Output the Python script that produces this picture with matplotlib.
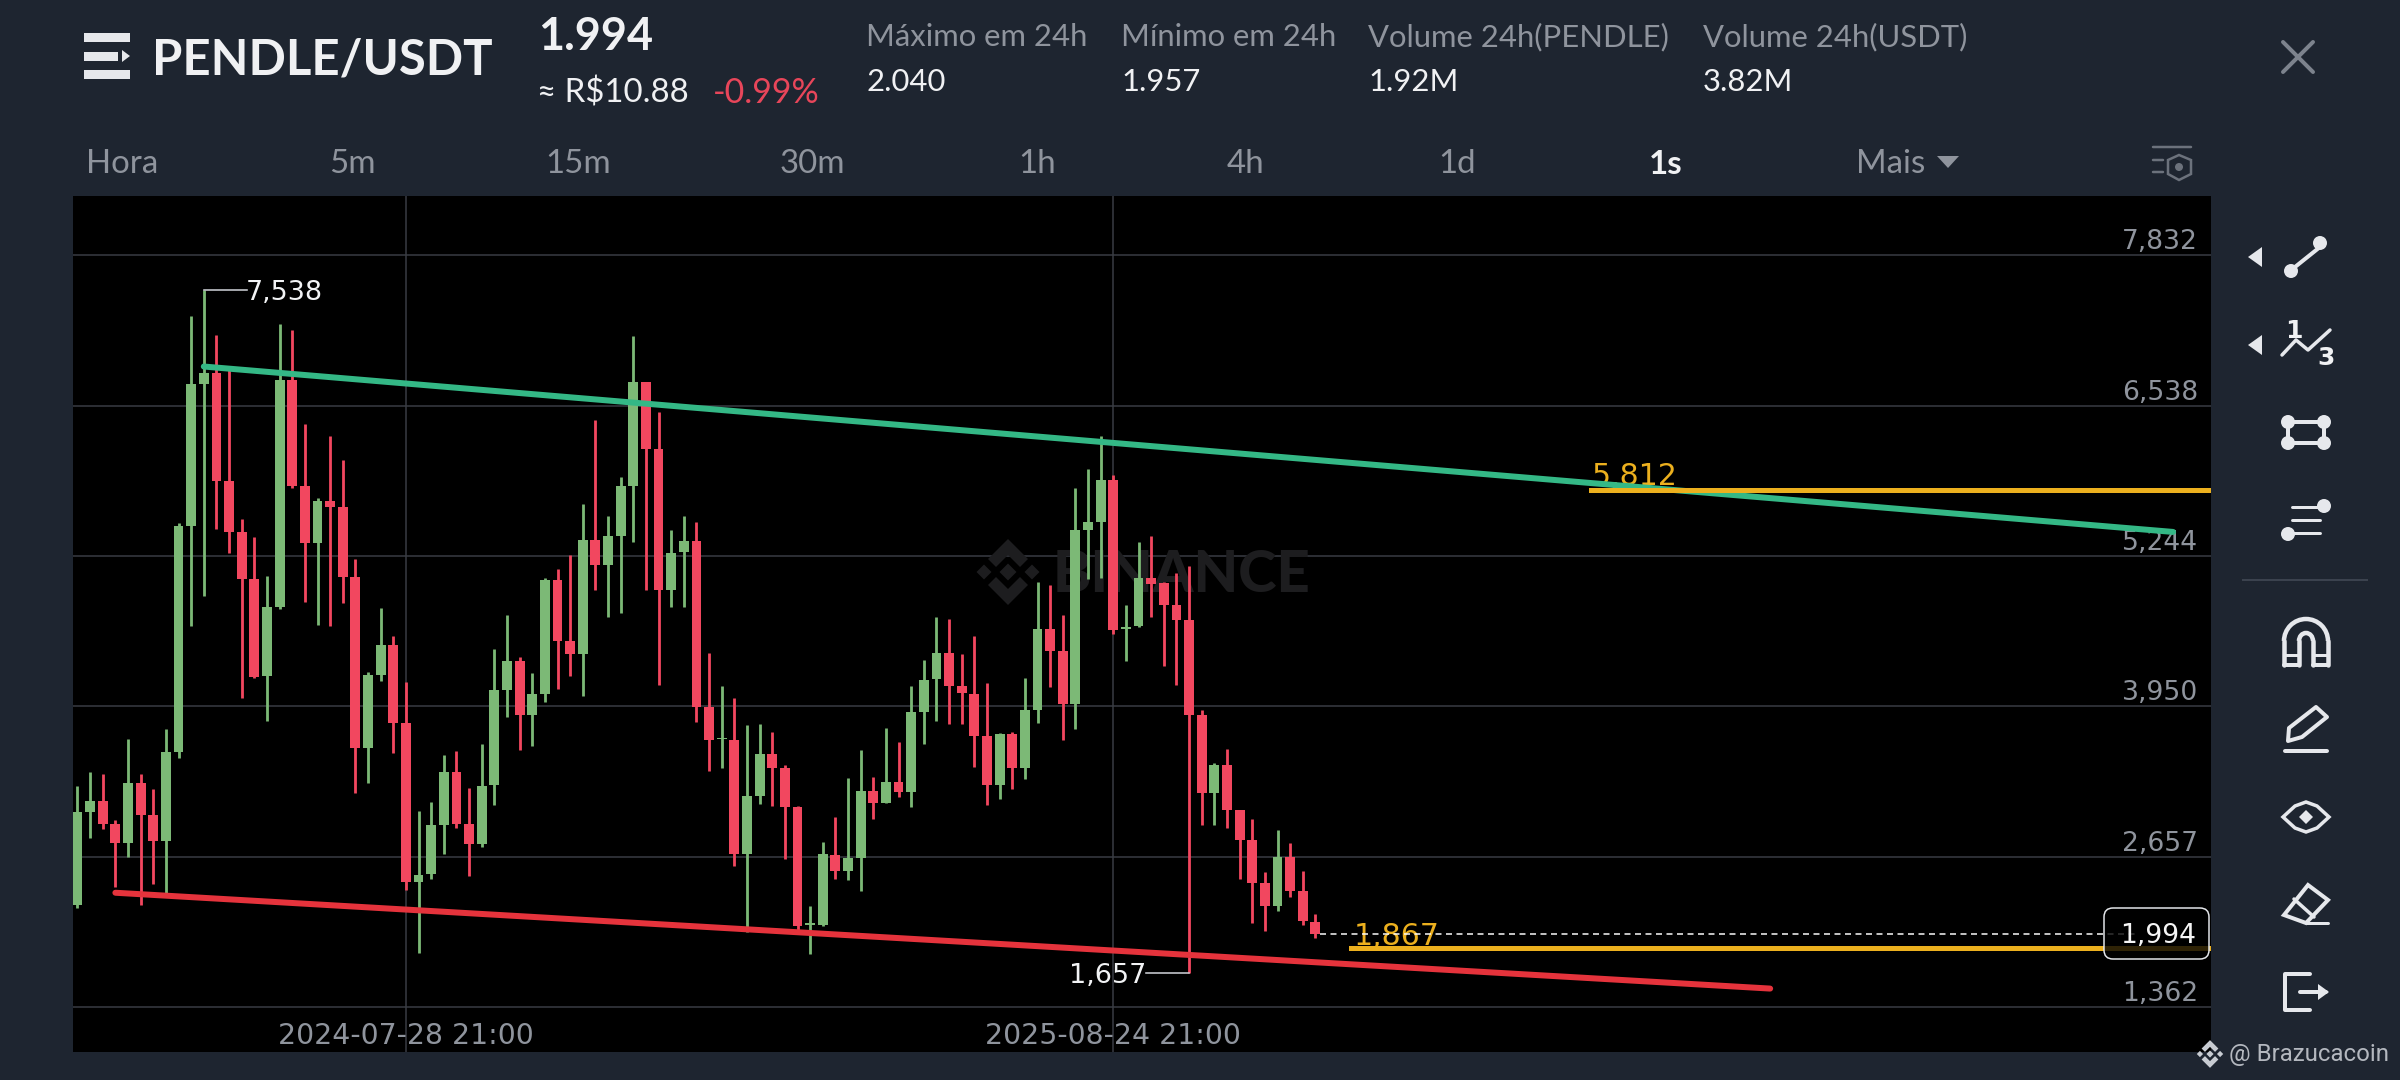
import matplotlib
matplotlib.use('Agg')
import matplotlib.pyplot as plt
from matplotlib.patches import Circle, FancyBboxPatch, Polygon, Rectangle, Arc
import numpy as np

# candles, oldest first
opens = [2.239, 3.041, 3.136, 2.935, 2.773, 3.294, 3.018, 2.792, 3.559, 5.500,
         6.722, 6.821, 5.888, 5.453, 5.046, 4.208, 4.808, 6.757, 5.848, 5.358,
         5.722, 5.666, 5.065, 3.595, 4.219, 4.480, 3.804, 2.441, 2.504, 2.931,
         3.385, 2.935, 2.765, 3.271, 4.089, 4.342, 3.879, 4.057, 5.034, 4.512,
         4.405, 5.386, 5.164, 5.414, 5.844, 6.740, 6.169, 4.948, 5.276, 5.377,
         3.947, 3.671, 3.664, 2.678, 3.182, 3.537, 3.417, 3.081, 2.070, 2.070,
         2.671, 2.529, 2.641, 3.219, 3.115, 3.298, 3.212, 3.906, 4.183, 4.414,
         4.123, 4.059, 3.696, 3.271, 3.712, 3.419, 3.920, 4.618, 4.424, 3.973,
         5.465, 5.540, 5.896, 4.618, 4.638, 5.056, 5.013, 4.826, 4.697, 3.877,
         3.205, 3.449, 3.057, 2.800, 2.431, 2.230, 2.655, 2.362, 2.098]
highs = [3.267, 3.385, 3.366, 2.970, 3.666, 3.366, 3.239, 3.753, 5.532, 7.307,
         7.538, 7.149, 6.844, 5.567, 5.409, 5.069, 7.244, 7.192, 6.382, 5.745,
         6.275, 6.073, 5.223, 4.243, 4.797, 4.559, 4.156, 3.049, 3.124, 3.528,
         3.563, 3.247, 3.623, 4.441, 4.733, 4.374, 4.235, 5.054, 5.129, 5.255,
         5.690, 6.413, 5.590, 5.922, 7.139, 6.740, 6.486, 5.470, 5.590, 5.534,
         4.407, 4.127, 4.022, 3.787, 3.798, 3.727, 3.447, 3.089, 2.234, 2.779,
         3.000, 3.331, 3.574, 3.343, 3.761, 3.641, 4.130, 4.351, 4.716, 4.705,
         4.399, 4.556, 4.150, 3.719, 3.729, 4.197, 5.023, 4.997, 4.733, 5.827,
         5.992, 6.275, 5.942, 4.822, 5.363, 5.419, 5.020, 5.099, 5.155, 3.920,
         3.459, 3.584, 3.057, 2.984, 2.526, 2.882, 2.773, 2.536, 2.161]
lows = [2.215, 2.816, 2.899, 2.397, 2.654, 2.239, 2.425, 2.338, 3.508, 4.642,
        4.899, 5.480, 5.271, 4.026, 4.196, 3.824, 4.789, 5.832, 4.848, 4.650,
        4.646, 4.844, 3.208, 3.294, 4.168, 3.551, 2.369, 1.824, 2.460, 2.682,
        2.903, 2.488, 2.741, 3.101, 3.856, 3.575, 3.607, 3.986, 4.101, 4.212,
        4.038, 4.951, 4.724, 4.754, 5.366, 4.948, 4.134, 4.806, 4.806, 3.820,
        3.391, 3.417, 2.577, 2.006, 3.111, 3.089, 2.633, 2.029, 1.820, 2.062,
        2.462, 2.454, 2.365, 2.981, 3.115, 3.167, 3.081, 3.630, 3.828, 3.802,
        3.802, 3.425, 3.103, 3.152, 3.235, 3.327, 3.811, 4.121, 3.660, 3.755,
        5.050, 5.053, 4.572, 4.345, 4.631, 4.724, 4.295, 4.134, 1.657, 2.925,
        2.932, 2.905, 2.461, 2.082, 2.019, 2.187, 2.312, 2.069, 1.960]
closes = [3.041, 3.136, 2.935, 2.773, 3.294, 3.018, 2.792, 3.559, 5.500, 6.722,
          6.821, 5.888, 5.453, 5.046, 4.204, 4.808, 6.757, 5.848, 5.358, 5.722,
          5.666, 5.065, 3.595, 4.219, 4.480, 3.804, 2.441, 2.500, 2.931, 3.385,
          2.939, 2.765, 3.267, 4.089, 4.342, 3.879, 4.057, 5.034, 4.512, 4.405,
          5.386, 5.168, 5.414, 5.844, 6.740, 6.169, 4.948, 5.269, 5.377, 3.947,
          3.664, 3.682, 2.678, 3.178, 3.537, 3.417, 3.081, 2.062, 2.085, 2.678,
          2.529, 2.641, 3.219, 3.115, 3.298, 3.212, 3.906, 4.175, 4.414, 4.123,
          4.067, 3.697, 3.271, 3.712, 3.419, 3.920, 4.618, 4.424, 3.973, 5.465,
          5.540, 5.896, 4.612, 4.631, 5.056, 5.007, 4.826, 4.697, 3.877, 3.205,
          3.449, 3.057, 2.803, 2.431, 2.233, 2.655, 2.365, 2.102, 1.994]

price_ticks = [7.832, 6.538, 5.244, 3.950, 2.657, 1.362]
price_labels = ['7,832', '6,538', '5,244', '3,950', '2,657', '1,362']
date_ticks = [26, 82]
date_labels = ['2024-07-28 21:00', '2025-08-24 21:00']

upper_x = [10, 165.9]
upper_y = [6.876, 5.452]
lower_x = [3, 134.0]
lower_y = [2.346, 1.521]
level_high = 5.812
level_high_start = 119.8
level_low = 1.867
level_low_start = 100.8
last_price = 1.994

tabs = ['Hora', '5m', '15m', '30m', '1h', '4h', '1d', '1s']
tab_x = [122, 352, 578, 812, 1037, 1245, 1457, 1666]
stats = [('Máximo em 24h', '2.040', 866), ('Mínimo em 24h', '1.957', 1121),
         ('Volume 24h(PENDLE)', '1.92M', 1368), ('Volume 24h(USDT)', '3.82M', 1703)]

BG = '#1e2530'
GREEN = '#7cb976'
RED = '#f2475f'
GREY = '#8f949d'
ICON = '#e6e8ec'
YELLOW = '#ecb01e'
WATERMARK = '#1d1d1f'
PX = 72 / 100  # points per pixel at dpi 100

plt.rcParams['font.family'] = ['Lato', 'DejaVu Sans']

fig = plt.figure(figsize=(24, 10.8), dpi=100, facecolor=BG)
ax = fig.add_axes([73 / 2400, 1 - 1052 / 1080, (2211 - 73) / 2400, (1052 - 196) / 1080], zorder=0)
ax.set_facecolor('black')
ax.set_xlim(-0.356, 168.9)
ax.set_ylim(0.975, 8.344)
for s in ax.spines.values():
    s.set_visible(False)

ax.set_axisbelow(True)
ax.grid(True, color='#3a3d44', lw=1.5 * PX)
ax.yaxis.tick_right()
ax.set_yticks(price_ticks, price_labels, family='DejaVu Sans', fontsize=26.5 * PX, color=GREY, ha='right', va='bottom')
ax.set_xticks(date_ticks, date_labels, family='DejaVu Sans', fontsize=28.4 * PX, color=GREY)
ax.tick_params(axis='y', length=0, pad=-13 * PX)
ax.tick_params(axis='x', length=0, pad=-30 * PX)


def binance_mark(target, cx, cy, k, color):
    # the four chevrons and the middle diamond of the logo
    top = [(0, -33), (20, -13), (12, -5), (0, -17), (-12, -5), (-20, -13)]
    target.add_patch(Polygon([(cx + k * a, cy + k * b) for a, b in top], color=color, lw=0))
    target.add_patch(Polygon([(cx + k * a, cy - k * b) for a, b in top], color=color, lw=0))
    for dx, r in [(-24, 7.5), (0, 8.5), (24, 7.5)]:
        target.add_patch(Polygon([(cx + k * (dx - r), cy), (cx + k * dx, cy - k * r),
                                  (cx + k * (dx + r), cy), (cx + k * dx, cy + k * r)], color=color, lw=0))


# watermark sits under the candles
ui_wm = fig.add_axes([0, 0, 1, 1], zorder=1)
ui_wm.set_xlim(0, 2400)
ui_wm.set_ylim(1080, 0)
ui_wm.axis('off')
ui_wm.text(1053, 575, 'BINANCE', fontsize=58 * PX, weight='black', color=WATERMARK, va='center', ha='left')
binance_mark(ui_wm, 1008, 572, 1.0, WATERMARK)

chart = fig.add_axes(ax.get_position(), zorder=2)
chart.patch.set_alpha(0)
chart.axis('off')
chart.set_xlim(ax.get_xlim())
chart.set_ylim(ax.get_ylim())

x = np.arange(len(opens))
opens_a, closes_a = np.array(opens), np.array(closes)
colors = [GREEN if c >= o else RED for o, c in zip(opens, closes)]
chart.vlines(x, lows, highs, colors=colors, lw=2.8 * PX, zorder=2)
chart.bar(x, np.abs(closes_a - opens_a), bottom=np.minimum(opens_a, closes_a), width=0.78, color=colors, lw=0, zorder=3)

# high / low markers
chart.plot([10, 10, 13.4], [highs[10], 7.538, 7.538], color='#c9ccd2', lw=1.6 * PX, zorder=4)
chart.text(13.3, 7.505, '7,538', family='DejaVu Sans', fontsize=27 * PX, color='#f2f3f5', va='center')
chart.plot([88, 88, 84.6], [lows[88], 1.657, 1.657], color='#c9ccd2', lw=1.6 * PX, zorder=4)
chart.text(84.6, 1.625, '1,657', family='DejaVu Sans', fontsize=27 * PX, color='#f2f3f5', va='center', ha='right')

# drawn trend lines and levels
chart.plot(upper_x, upper_y, color='#34b886', lw=6 * PX, solid_capstyle='round', zorder=5)
chart.plot(lower_x, lower_y, color='#e5333c', lw=6 * PX, solid_capstyle='round', zorder=5)
chart.plot([level_high_start, 168.9], [level_high, level_high], color=YELLOW, lw=5 * PX, zorder=6)
chart.plot([level_low_start, 168.9], [level_low, level_low], color=YELLOW, lw=5 * PX, zorder=6)
chart.text(level_high_start + 0.1, level_high - 0.005, '5,812', family='DejaVu Sans', fontsize=30 * PX, color=YELLOW, va='bottom')
chart.text(level_low_start + 0.2, level_low - 0.02, '1,867', family='DejaVu Sans', fontsize=30 * PX, color=YELLOW, va='bottom')
chart.plot([98.4, 163], [last_price, last_price], color='white', lw=1.5 * PX, dashes=(4, 3), zorder=6)

# screen furniture in pixel coordinates
ui = fig.add_axes([0, 0, 1, 1], zorder=5)
ui.set_xlim(0, 2400)
ui.set_ylim(1080, 0)
ui.axis('off')


def label(x_px, y_px, s, size, color='#f0f1f3', ha='left', weight='normal', family='Lato'):
    ui.text(x_px, y_px, s, fontsize=size * PX, color=color, ha=ha, va='center', weight=weight, family=family)


def stroke(xs, ys, lw=4, color=ICON):
    ui.plot(xs, ys, color=color, lw=lw * PX, solid_capstyle='round', solid_joinstyle='round')


def dot(cx, cy, r=7, color=ICON):
    ui.add_patch(Circle((cx, cy), r, color=color, lw=0))


def ring(cx, cy, w, h, lw=4, theta1=0, theta2=360, color=ICON):
    ui.add_patch(Arc((cx, cy), w, h, theta1=theta1, theta2=theta2, color=color, lw=lw * PX))


# logo and header
for y0, x1 in [(33, 130), (52, 118), (70, 130)]:
    ui.add_patch(Rectangle((84, y0), x1 - 84, 9, color=ICON, lw=0))
ui.add_patch(Polygon([(122, 50), (130, 56), (122, 62)], color=ICON, lw=0))
label(152, 60, 'PENDLE/USDT', 49, weight='bold')
label(538, 37, '1.994', 45, weight='bold')
label(537, 93, '≈ R$10.88', 33, family=['Lato', 'DejaVu Sans'])
label(713, 93, '-0.99%', 34, color='#e8465a')
for name, value, px in stats:
    label(px, 37, name, 31, color=GREY)
    label(px, 82, value, 31)
stroke([2283, 2313], [42, 72], lw=4, color='#7d838d')
stroke([2313, 2283], [42, 72], lw=4, color='#7d838d')

# interval tabs
for name, px in zip(tabs, tab_x):
    if name == '1s':
        label(px, 164, name, 33, ha='center', weight='bold')
    else:
        label(px, 164, name, 33, color=GREY, ha='center')
label(1856, 164, 'Mais', 33, color=GREY)
ui.add_patch(Polygon([(1937, 156), (1959, 156), (1948, 168)], color=GREY, lw=0))

# settings glyph
stroke([2153, 2191], [147, 147], lw=2.5, color='#6c727c')
stroke([2153, 2163], [160, 160], lw=2.5, color='#6c727c')
stroke([2153, 2163], [172, 172], lw=2.5, color='#6c727c')
ui.add_patch(Polygon([(2179, 155), (2191, 160), (2191, 174), (2179, 180), (2168, 174), (2168, 160)],
                     fill=False, ec='#6c727c', lw=2.5 * PX))
dot(2179, 167, 4, '#6c727c')

# price tag
ui.add_patch(FancyBboxPatch((2110, 914), 93, 39, boxstyle='round,pad=6,rounding_size=9',
                            fc=(0, 0, 0, 0.8), ec='#e6e8ec', lw=1.5 * PX))
label(2196, 936, '1,994', 26.5, color='#f5f5f5', ha='right', family='DejaVu Sans')

# toolbar
cx = 2306
for y0 in [257, 345]:
    ui.add_patch(Polygon([(2248, y0), (2262, y0 - 10), (2262, y0 + 10)], color=ICON, lw=0))
stroke([cx - 16, cx + 14], [271, 247])
dot(cx - 15, 271, 7)
dot(cx + 14, 243, 7)
stroke([cx - 24, cx - 10, cx + 2, cx + 24], [355, 340, 350, 330], lw=3.5)
label(cx - 21, 331, '1', 25, weight='bold', family='DejaVu Sans')
label(cx + 11, 358, '3', 25, weight='bold', family='DejaVu Sans')
for ex in [cx - 18, cx + 18]:
    dot(ex, 422, 7)
    dot(ex, 443, 7)
    stroke([ex, ex], [422, 443], lw=4)
stroke([cx - 18, cx + 18], [422, 422], lw=4)
stroke([cx - 18, cx + 18], [443, 443], lw=4)
stroke([cx - 14, cx + 14], [507, 507], lw=3)
stroke([cx - 14, cx + 14], [520, 520], lw=3)
stroke([cx - 14, cx + 14], [533, 533], lw=3)
dot(cx + 18, 506, 7)
dot(cx - 18, 534, 7)
ui.plot([2243, 2367], [580, 580], color='#3b424e', lw=2 * PX)

# magnet
ring(cx, 641, 44, 44, lw=4.5, theta1=180, theta2=360)
ring(cx, 641, 14, 16, lw=4.5, theta1=180, theta2=360)
for ex in [cx - 22, cx - 7, cx + 7, cx + 22]:
    stroke([ex, ex], [641, 665], lw=4.5)
stroke([cx - 22, cx - 7], [665, 665], lw=4)
stroke([cx + 7, cx + 22], [665, 665], lw=4)
stroke([cx - 22, cx - 7], [655, 655], lw=3)
stroke([cx + 7, cx + 22], [655, 655], lw=3)

# pencil
ui.add_patch(Polygon([(cx - 17, 728), (cx + 10, 707), (cx + 21, 717), (cx - 4, 737), (cx - 18, 741)],
                     fill=False, ec=ICON, lw=4 * PX, joinstyle='round'))
stroke([cx - 21, cx + 21], [751, 751], lw=4)

# eye
ui.add_patch(Polygon([(cx - 23, 817), (cx - 11, 806), (cx, 802), (cx + 11, 806), (cx + 23, 817),
                      (cx + 11, 828), (cx, 832), (cx - 11, 828)], fill=False, ec=ICON, lw=3.5 * PX))
ui.add_patch(Polygon([(cx - 7, 817), (cx, 810), (cx + 7, 817), (cx, 824)], color=ICON, lw=0))

# eraser
ui.add_patch(Polygon([(cx - 22, 915), (cx + 2, 885), (cx + 22, 900), (cx, 923)], fill=False, ec=ICON, lw=4 * PX))
stroke([cx - 12, cx + 8], [899, 917], lw=3.5)
stroke([cx, cx + 22], [923, 923], lw=3)

# exit
stroke([cx + 4, cx - 21, cx - 21, cx + 4], [974, 974, 1010, 1010], lw=4)
stroke([cx - 6, cx + 20], [992, 992], lw=4)
ui.add_patch(Polygon([(cx + 12, 984), (cx + 23, 992), (cx + 12, 1000)], color=ICON, lw=0))

# author mark
binance_mark(ui, 2210, 1054, 0.42, '#c8ccd2')
label(2229, 1054, '@ Brazucacoin', 24, color='#b4b8bf', family='Roboto')

fig.savefig('out.png', dpi=100, facecolor=BG)
